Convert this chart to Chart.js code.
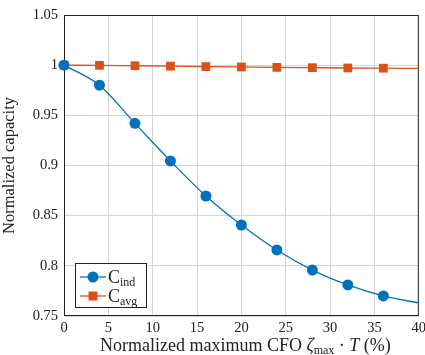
<!DOCTYPE html>
<html lang="en">
<head>
  <meta charset="UTF-8" />
  <title>Normalized capacity vs CFO</title>
  <script src="https://cdn.jsdelivr.net/npm/chart.js"></script>
  <style>
    html, body { margin: 0; padding: 0; background: #fff; }
    #wrap { width: 425px; height: 355px; }
  </style>
</head>
<body>
  <div id="wrap"><canvas id="capChart" width="425" height="355"></canvas></div>

  <script>
    // data
    const cfoPercent = [0, 4, 8, 12, 16, 20, 24, 28, 32, 36, 40];
    const capInd = [1.0, 0.980, 0.942, 0.9045, 0.8696, 0.8407, 0.8158, 0.7958, 0.781, 0.770, 0.763];
    const capAvg = [1.0, 0.9998, 0.9994, 0.999, 0.9986, 0.9982, 0.9978, 0.9975, 0.9972, 0.997, 0.9968];
    const xTicks = [0, 5, 10, 15, 20, 25, 30, 35, 40];
    const yTicks = [0.75, 0.8, 0.85, 0.9, 0.95, 1, 1.05];

    const serif = '"Liberation Serif", "DejaVu Serif", serif';
    const blue = '#0072BD';
    const orange = '#D95319';

    const toPoints = ys => cfoPercent.map((x, i) => ({ x: x, y: ys[i] }));
    // markers every 4 %, the last sample only carries the curve to the edge
    const markerSizes = r => cfoPercent.map(x => x < 40 ? r : 0);

    // box around the plot area (pgfplots style)
    const frame = {
      id: 'frame',
      beforeDatasetsDraw(chart) {
        const { ctx, chartArea: a } = chart;
        ctx.save();
        ctx.strokeStyle = '#222';
        ctx.lineWidth = 1;
        ctx.strokeRect(a.left + 0.5, a.top + 0.5, a.right - a.left - 1, a.bottom - a.top - 1);
        ctx.restore();
      }
    };

    // x title with subscript and italics
    const xTitle = {
      id: 'xTitle',
      afterDraw(chart) {
        const { ctx, chartArea: a } = chart;
        const big = 18;
        const parts = [
          { t: 'Normalized maximum CFO ', f: big + 'px ' + serif, dy: 0 },
          { t: 'ζ', f: 'italic ' + big + 'px ' + serif, dy: 0 },
          { t: 'max', f: '12px ' + serif, dy: 3 },
          { t: ' · ', f: big + 'px ' + serif, dy: 0 },
          { t: 'T', f: 'italic ' + big + 'px ' + serif, dy: 0 },
          { t: ' (%)', f: big + 'px ' + serif, dy: 0 }
        ];
        ctx.save();
        ctx.fillStyle = '#222';
        ctx.textBaseline = 'alphabetic';
        let total = 0;
        parts.forEach(p => { ctx.font = p.f; p.w = ctx.measureText(p.t).width; total += p.w; });
        let x = (a.left + a.right) / 2 - total / 2 + 4;
        const y = 351;
        parts.forEach(p => { ctx.font = p.f; ctx.fillText(p.t, x, y + p.dy); x += p.w; });
        ctx.restore();
      }
    };

    // legend box in the lower left corner of the plot
    const innerLegend = {
      id: 'innerLegend',
      afterDraw(chart) {
        const { ctx, chartArea: a } = chart;
        const bx = a.left + 11, by = a.bottom - 53, bw = 71, bh = 44;
        ctx.save();
        ctx.fillStyle = '#fff';
        ctx.fillRect(bx, by, bw, bh);
        ctx.strokeStyle = '#222';
        ctx.lineWidth = 1;
        ctx.strokeRect(bx + 0.5, by + 0.5, bw, bh);
        const rows = [
          { c: blue, sub: 'ind', shape: 'circle', y: by + 14 },
          { c: orange, sub: 'avg', shape: 'rect', y: by + 33 }
        ];
        rows.forEach(r => {
          ctx.strokeStyle = r.c;
          ctx.fillStyle = r.c;
          ctx.lineWidth = 1.3;
          ctx.beginPath();
          ctx.moveTo(bx + 5, r.y);
          ctx.lineTo(bx + 31, r.y);
          ctx.stroke();
          if (r.shape === 'circle') {
            ctx.beginPath();
            ctx.arc(bx + 18, r.y, 5.5, 0, Math.PI * 2);
            ctx.fill();
          } else {
            ctx.fillRect(bx + 18 - 4.5, r.y - 4.5, 9, 9);
          }
          ctx.fillStyle = '#222';
          ctx.textBaseline = 'alphabetic';
          ctx.font = '18px ' + serif;
          ctx.fillText('C', bx + 33, r.y + 6);
          const w = ctx.measureText('C').width;
          ctx.font = '12px ' + serif;
          ctx.fillText(r.sub, bx + 33 + w, r.y + 9);
        });
        ctx.restore();
      }
    };

    new Chart(document.getElementById('capChart'), {
      type: 'line',
      data: {
        datasets: [
          {
            label: 'C_ind',
            data: toPoints(capInd),
            borderColor: blue,
            backgroundColor: blue,
            borderWidth: 1.3,
            pointStyle: 'circle',
            pointRadius: markerSizes(5.5),
            pointHoverRadius: markerSizes(5.5),
            pointBorderWidth: 0,
            cubicInterpolationMode: 'monotone',
            clip: false
          },
          {
            label: 'C_avg',
            data: toPoints(capAvg),
            borderColor: orange,
            backgroundColor: orange,
            borderWidth: 1.3,
            pointStyle: 'rect',
            pointRadius: markerSizes(6.2),
            pointHoverRadius: markerSizes(6.2),
            pointBorderWidth: 0,
            cubicInterpolationMode: 'monotone',
            clip: false
          }
        ]
      },
      options: {
        responsive: false,
        animation: false,
        layout: { padding: { top: 15, right: 6, left: 0, bottom: 0 } },
        plugins: {
          legend: { display: false },
          tooltip: { enabled: false }
        },
        scales: {
          x: {
            type: 'linear',
            min: 0,
            max: 40,
            afterFit: s => { s.height = 39; s.paddingRight = 0; s.paddingLeft = 0; },
            afterBuildTicks: s => { s.ticks = xTicks.map(v => ({ value: v })); },
            grid: { color: '#d4d4d4', lineWidth: 1, drawTicks: false },
            border: { display: false },
            ticks: {
              color: '#222',
              font: { family: serif, size: 14.5 },
              padding: 3,
              maxRotation: 0
            },
            title: { display: false }
          },
          y: {
            min: 0.75,
            max: 1.05,
            afterFit: s => { s.width = 64; s.paddingTop = 0; s.paddingBottom = 0; },
            afterBuildTicks: s => { s.ticks = yTicks.map(v => ({ value: v })); },
            grid: { color: '#d4d4d4', lineWidth: 1, drawTicks: false },
            border: { display: false },
            ticks: {
              color: '#222',
              font: { family: serif, size: 14.5 },
              padding: 6,
              callback: v => String(parseFloat(v.toFixed(2)))
            },
            title: {
              display: true,
              text: 'Normalized capacity',
              color: '#222',
              font: { family: serif, size: 16.5 },
              padding: { top: 0, bottom: 4 }
            }
          }
        }
      },
      plugins: [frame, xTitle, innerLegend]
    });
  </script>
</body>
</html>
